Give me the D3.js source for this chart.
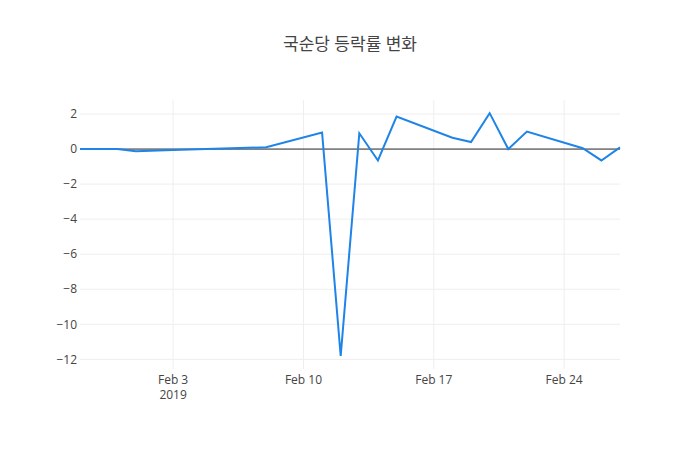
<!DOCTYPE html>
<html><head><meta charset="utf-8">
<script src="https://cdn.jsdelivr.net/npm/d3@7"></script>
<style>body{margin:0;background:#fff}text{font-family:"Open Sans","Noto Sans CJK KR",sans-serif}</style>
</head><body><svg id="c" width="700" height="450"></svg>
<script>
var dates = ["2019-01-29","2019-01-31","2019-02-01","2019-02-03","2019-02-08","2019-02-11","2019-02-12","2019-02-13","2019-02-14","2019-02-15","2019-02-18","2019-02-19","2019-02-20","2019-02-21","2019-02-22","2019-02-25","2019-02-26","2019-02-27"];
var values = [0, 0, -0.13, -0.05, 0.1, 0.95, -11.8, 0.9, -0.65, 1.85, 0.65, 0.4, 2.05, 0, 1.0, 0.05, -0.65, 0.1];
var yTicks = [2, 0, -2, -4, -6, -8, -10, -12];
var xTicks = ["2019-02-03","2019-02-10","2019-02-17","2019-02-24"];

var parse = d3.utcParse("%Y-%m-%d");
var svg = d3.select("#c");
var L = 80, R = 620, T = 100, B = 369;
var x = d3.scaleUtc().domain([parse("2019-01-29"), parse("2019-02-27")]).range([L, R]);
var y = d3.scaleLinear().domain([-12.55, 2.8]).range([B, T]);

// grid
svg.append("g").selectAll("line").data(yTicks.filter(d => d !== 0)).join("line")
    .attr("x1", L).attr("x2", R).attr("y1", d => y(d)).attr("y2", d => y(d))
    .attr("stroke", "#eee").attr("stroke-width", 1);
svg.append("g").selectAll("line").data(xTicks).join("line")
    .attr("x1", d => x(parse(d))).attr("x2", d => x(parse(d))).attr("y1", T).attr("y2", B)
    .attr("stroke", "#eee");
// zero line above grid
svg.append("line").attr("x1", L).attr("x2", R).attr("y1", y(0)).attr("y2", y(0))
    .attr("stroke", "#222").attr("stroke-width", 1);

svg.append("g").selectAll("text").data(yTicks).join("text")
    .attr("x", L - 3).attr("y", d => y(d)).attr("dy", "0.35em").attr("text-anchor", "end")
    .attr("font-size", 12).attr("fill", "#444").text(d => d < 0 ? "\u2212" + Math.abs(d) : d);
svg.append("g").selectAll("text").data(xTicks).join("text")
    .attr("x", d => x(parse(d))).attr("y", B + 15).attr("text-anchor", "middle")
    .attr("font-size", 12).attr("fill", "#444").text(d => d3.utcFormat("%b %-d")(parse(d)));
svg.append("text").attr("x", x(parse(xTicks[0]))).attr("y", B + 30)
    .attr("text-anchor", "middle").attr("font-size", 12).attr("fill", "#444").text("2019");

svg.append("path")
    .datum(dates.map((d, i) => [parse(d), values[i]]))
    .attr("fill", "none").attr("stroke", "#1f84e8").attr("stroke-width", 2)
    .attr("d", d3.line().x(d => x(d[0])).y(d => y(d[1])));

svg.append("text").attr("x", 350).attr("y", 50).attr("text-anchor", "middle")
    .attr("font-size", 17).attr("fill", "#444").text("국순당 등락률 변화");
</script></body></html>
